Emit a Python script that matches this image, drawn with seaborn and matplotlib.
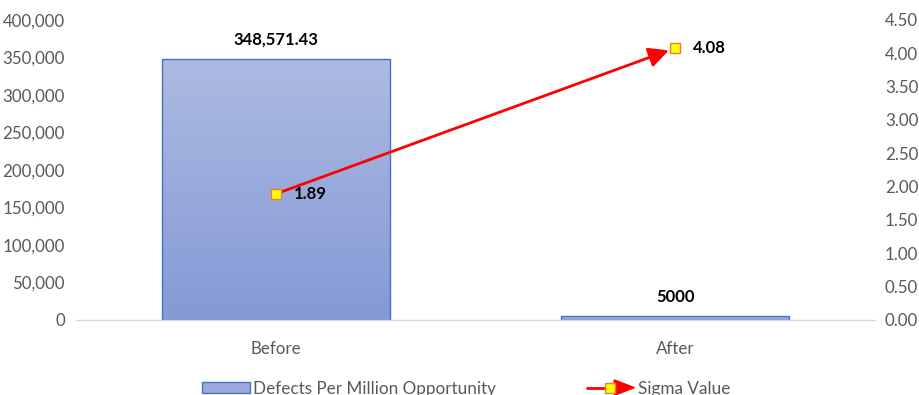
import numpy as np
import pandas as pd
import matplotlib
matplotlib.use("Agg")
import matplotlib.pyplot as plt
import seaborn as sns
from matplotlib.lines import Line2D
from matplotlib.patches import Patch, Polygon
from matplotlib.legend_handler import HandlerBase
from matplotlib.colors import LinearSegmentedColormap
from matplotlib.ticker import FuncFormatter

# Data
stages = ["Before", "After"]
dpmo = [348571.43, 5000]
dpmo_labels = ["348,571.43", "5000"]
sigma = [1.89, 4.08]
sigma_labels = ["1.89", "4.08"]

sns.set_theme(style="white")
plt.rcParams["font.family"] = ["Lato", "DejaVu Sans"]

GREY = "#595959"
BAR_EDGE = "#4472C4"
LINE_RED = "#FF0000"
MK_FACE = "#FFFF00"
MK_EDGE = "#ED7D31"
TICK_FS = 12.2
VAL_FS = 12

fig = plt.figure(figsize=(9.19, 3.95), dpi=100)
ax = fig.add_axes([0.0827, 0.190, 0.8695, 0.7594])

df = pd.DataFrame({"Stage": stages, "DPMO": dpmo})
sns.barplot(data=df, x="Stage", y="DPMO", ax=ax, width=0.57,
            color="#9AAADC", edgecolor=BAR_EDGE, linewidth=1.0, saturation=1)

ax.set_xlim(-0.5, 1.5)
ax.set_ylim(0, 400000)

# Vertical gradient fill clipped to each bar
grad_cmap = LinearSegmentedColormap.from_list("bar_grad", ["#8499D6", "#ADBBE2"])
grad = np.linspace(0, 1, 256).reshape(-1, 1)
for p in ax.patches:
    x0, y0 = p.get_x(), p.get_y()
    w, h = p.get_width(), p.get_height()
    im = ax.imshow(grad, cmap=grad_cmap, origin="lower", aspect="auto",
                   extent=[x0, x0 + w, y0, y0 + h], zorder=p.get_zorder() - 0.1,
                   interpolation="bilinear")
    im.set_clip_path(p)
    p.set_facecolor("none")
ax.set_xlim(-0.5, 1.5)
ax.set_ylim(0, 400000)

for i, (v, lab) in enumerate(zip(dpmo, dpmo_labels)):
    ax.annotate(lab, xy=(i, v), xytext=(0, 19), textcoords="offset pixels",
                ha="center", va="center", fontsize=VAL_FS, fontweight="bold",
                color="black")

ax.set_yticks(np.arange(0, 400001, 50000))
ax.yaxis.set_major_formatter(FuncFormatter(lambda v, _: f"{int(v):,}"))
ax.set_xlabel("")
ax.set_ylabel("")
ax.tick_params(axis="both", length=0, labelsize=TICK_FS, labelcolor=GREY)
ax.tick_params(axis="y", pad=8)
ax.tick_params(axis="x", pad=15)
for s in ["top", "left", "right"]:
    ax.spines[s].set_visible(False)
ax.spines["bottom"].set_color("#D9D9D9")
ax.spines["bottom"].set_linewidth(1.0)

# Secondary axis: sigma value
ax2 = ax.twinx()
ax2.set_ylim(0, 4.5)
ax2.set_yticks(np.arange(0, 4.51, 0.5))
ax2.yaxis.set_major_formatter(FuncFormatter(lambda v, _: f"{v:.2f}"))
ax2.tick_params(axis="y", length=0, labelsize=TICK_FS, labelcolor=GREY, pad=7)
for s in ax2.spines.values():
    s.set_visible(False)

ax2.annotate("", xy=(1, sigma[1]), xytext=(0, sigma[0]),
             arrowprops=dict(arrowstyle="-|>", color=LINE_RED, lw=2,
                             mutation_scale=30, shrinkA=0, shrinkB=5),
             zorder=3)
sdf = pd.DataFrame({"x": [0, 1], "Sigma": sigma})
sns.scatterplot(data=sdf, x="x", y="Sigma", ax=ax2, marker="s", s=60,
                color=MK_FACE, edgecolor=MK_EDGE, linewidth=1.0, zorder=4,
                legend=False)
ax2.set_xlim(-0.5, 1.5)
ax2.set_xlabel("")
ax2.set_ylabel("")
for i, (v, lab) in enumerate(zip(sigma, sigma_labels)):
    ax2.annotate(lab, xy=(i, v), xytext=(18, 0), textcoords="offset pixels",
                 ha="left", va="center", fontsize=VAL_FS, fontweight="bold",
                 color="black")


class ArrowLineHandler(HandlerBase):
    def create_artists(self, legend, orig_handle, xdescent, ydescent,
                       width, height, fontsize, trans):
        y = height / 2 - ydescent
        x0 = -xdescent
        line = Line2D([x0, x0 + width * 0.55], [y, y], color=LINE_RED, lw=2)
        hh = height * 0.75
        tri = Polygon([[x0 + width * 0.58, y + hh], [x0 + width * 0.58, y - hh],
                       [x0 + width, y]], closed=True, facecolor=LINE_RED,
                      edgecolor=LINE_RED)
        mk = Line2D([x0 + width * 0.5], [y], marker="s", markersize=7.5,
                    markerfacecolor=MK_FACE, markeredgecolor=MK_EDGE,
                    markeredgewidth=1.0, linestyle="none")
        for a in (line, tri, mk):
            a.set_transform(trans)
        return [line, tri, mk]


bar_handle = Patch(facecolor="#9AAADC", edgecolor=BAR_EDGE, linewidth=1.0)
sig_handle = Line2D([], [], color=LINE_RED)
fig.legend([bar_handle, sig_handle],
           ["Defects Per Million Opportunity", "Sigma Value"],
           handler_map={sig_handle: ArrowLineHandler()},
           loc="center", bbox_to_anchor=(0.507, 0.016), ncol=2, frameon=False,
           fontsize=12.3, labelcolor=GREY, handlelength=2.8, handleheight=0.55,
           handletextpad=0.2, columnspacing=5.3)

fig.savefig("out.png", dpi=100)
